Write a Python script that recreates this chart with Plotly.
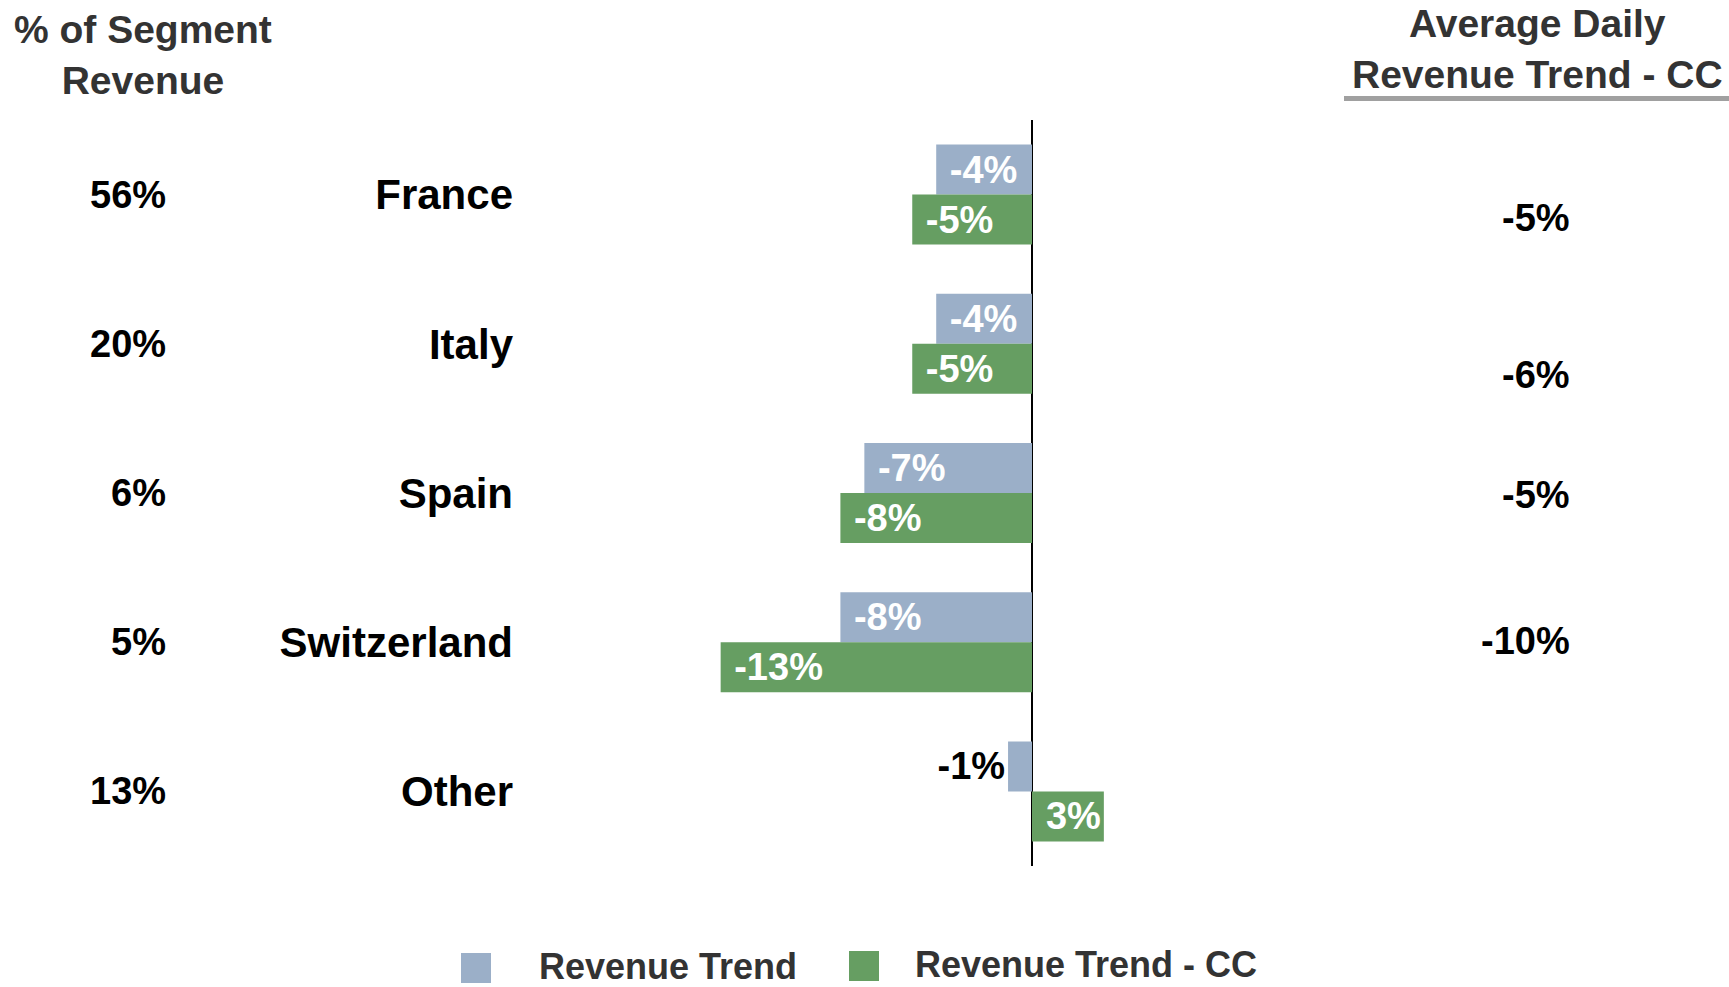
import plotly.graph_objects as go

# ---- data ----
categories = ["France", "Italy", "Spain", "Switzerland", "Other"]
segment_share = ["56%", "20%", "6%", "5%", "13%"]
revenue_trend = [-4, -4, -7, -8, -1]
revenue_trend_cc = [-5, -5, -8, -13, 3]
avg_daily_cc = [-5, -6, -5, -10, None]
series_names = ["Revenue Trend", "Revenue Trend - CC"]
header_left = "% of Segment<br>Revenue"
header_right = "Average Daily<br>Revenue Trend - CC"

# ---- style ----
W, H = 1729, 987
ML, MR, MT, MB = 530, 429, 120, 121
BLUE = "#9BAFC8"
GREEN = "#669E62"
FONT = "Liberation Sans, Arial, sans-serif"
PX_PER_UNIT = 23.95
ZERO_PX = 1032
plot_w = W - ML - MR
x_left = (ML - ZERO_PX) / PX_PER_UNIT
x_right = (W - MR - ZERO_PX) / PX_PER_UNIT


def px_x(px):
    return (px - ML) / plot_w


def px_y(py):
    return 1 - (py - MT) / (H - MT - MB)


def fmt(v):
    return f"{v}%"


def bar_text(v):
    # small inset for labels sitting at the left end of negative bars
    return ("\u00a0" + fmt(v)) if v <= -2 else fmt(v)


def positions(vals):
    return ["outside" if abs(v) < 2 else "inside" for v in vals]


fig = go.Figure()
for name, vals, color in [(series_names[0], revenue_trend, BLUE),
                          (series_names[1], revenue_trend_cc, GREEN)]:
    fig.add_trace(go.Bar(
        y=categories, x=vals, orientation="h", name=name,
        marker=dict(color=color, line=dict(width=0)),
        text=[bar_text(v) for v in vals],
        textposition=positions(vals),
        insidetextanchor="end",
        constraintext="none",
        cliponaxis=False,
        insidetextfont=dict(family=FONT, size=38, color="white", weight="bold"),
        outsidetextfont=dict(family=FONT, size=38, color="black", weight="bold"),
        showlegend=False,
        hoverinfo="skip",
    ))

annotations = []
# left column: % of segment revenue
for cat, share in zip(categories, segment_share):
    annotations.append(dict(
        x=px_x(168), xref="paper", y=cat, yref="y", text=share,
        xanchor="right", yanchor="middle", showarrow=False,
        font=dict(family=FONT, size=38, color="black", weight="bold")))

# right column: average daily revenue trend - CC
right_shift = [-23, -31, -2, 1, 0]
for cat, v, dy in zip(categories, avg_daily_cc, right_shift):
    if v is None:
        continue
    annotations.append(dict(
        x=px_x(1572), xref="paper", y=cat, yref="y", yshift=dy, text=fmt(v),
        xanchor="right", yanchor="middle", showarrow=False,
        font=dict(family=FONT, size=38, color="black", weight="bold")))

# headers
annotations.append(dict(
    x=px_x(143), xref="paper", y=px_y(55), yref="paper", text=header_left,
    xanchor="center", yanchor="middle", showarrow=False,
    font=dict(family=FONT, size=39, color="#333333", weight="bold")))
annotations.append(dict(
    x=px_x(1537), xref="paper", y=px_y(49), yref="paper", text=header_right,
    xanchor="center", yanchor="middle", showarrow=False,
    font=dict(family=FONT, size=39, color="#333333", weight="bold")))

# legend
shapes = [dict(type="line", xref="paper", yref="paper",
               x0=px_x(1344), x1=px_x(1729), y0=px_y(98.5), y1=px_y(98.5),
               line=dict(color="#A0A0A0", width=5))]
legend_items = [(series_names[0], BLUE, 461, 953, 537),
                (series_names[1], GREEN, 849, 951, 913)]
for name, color, sx, sy, tx in legend_items:
    shapes.append(dict(type="rect", xref="paper", yref="paper",
                       x0=px_x(sx), x1=px_x(sx + 30), y0=px_y(sy), y1=px_y(sy + 30),
                       fillcolor=color, line=dict(width=0)))
    annotations.append(dict(
        x=px_x(tx), xref="paper", y=px_y(sy + 13), yref="paper", text=name,
        xanchor="left", yanchor="middle", showarrow=False,
        font=dict(family=FONT, size=36, color="#333333", weight="bold")))

fig.update_layout(
    width=W, height=H,
    margin=dict(l=ML, r=MR, t=MT, b=MB, pad=0),
    paper_bgcolor="white", plot_bgcolor="white",
    barmode="group", bargap=0.33, bargroupgap=0,
    annotations=annotations, shapes=shapes,
    showlegend=False,
    xaxis=dict(range=[x_left, x_right], showgrid=False, showticklabels=False,
               zeroline=True, zerolinecolor="black", zerolinewidth=1.5,
               showline=False, ticks=""),
    yaxis=dict(range=[4.5, -0.5], type="category", showgrid=False,
               showline=False, zeroline=False, ticks="",
               ticklabelstandoff=16,
               tickfont=dict(family=FONT, size=42, color="black", weight="bold")),
)

fig.write_html(
    "out.html",
    config={"displayModeBar": False},
    post_script="document.body.style.margin='0';document.body.style.overflow='hidden';",
)
